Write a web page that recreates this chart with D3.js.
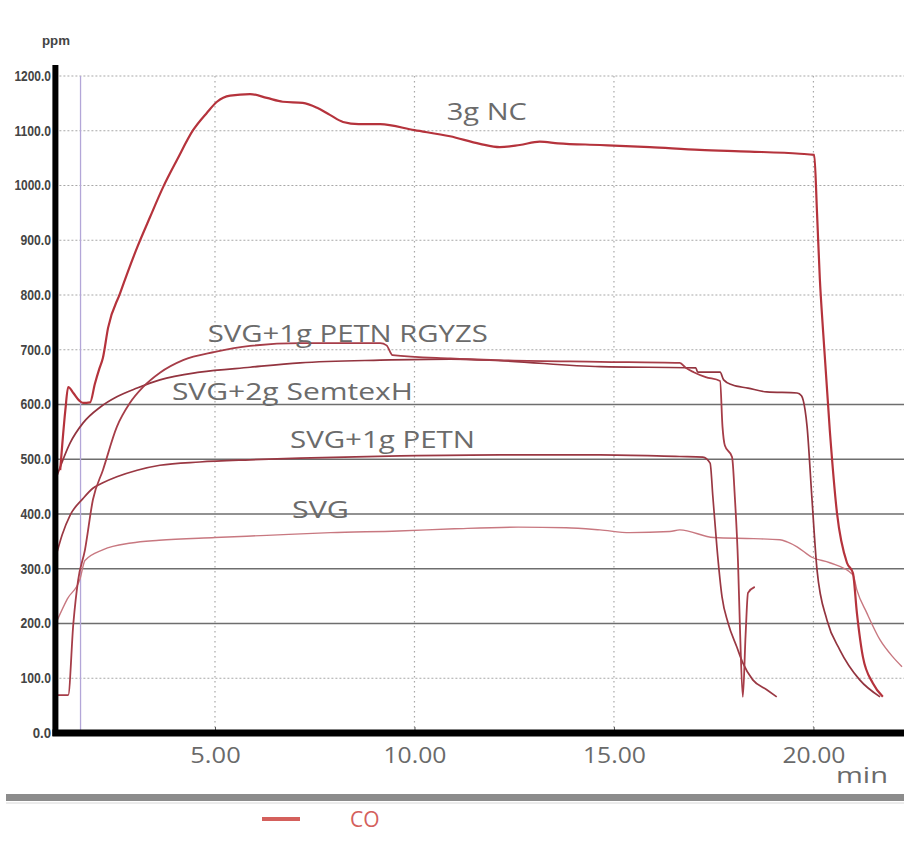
<!DOCTYPE html>
<html>
<head>
<meta charset="utf-8">
<script src="https://cdn.jsdelivr.net/npm/d3@7"></script>
<style>
  body { margin: 0; background: #fff; }
  svg { display: block; }
</style>
</head>
<body>
<div id="screen"></div>
<script>
// readings: [minutes, ppm]
const nc = [[1.12, 480], [1.17, 525], [1.25, 590], [1.32, 632], [1.45, 621], [1.60, 607], [1.69, 603], [1.87, 604],
    [1.99, 638], [2.10, 665], [2.19, 685], [2.32, 740], [2.62, 803], [3.05, 887], [3.37, 942], [3.70, 997],
    [4.05, 1047], [4.45, 1101], [4.80, 1133], [5.05, 1153], [5.38, 1164], [5.88, 1167], [6.30, 1160],
    [6.70, 1153], [7.20, 1151], [7.56, 1142], [7.88, 1129], [8.21, 1116], [8.60, 1112], [9.14, 1112],
    [10.0, 1101], [10.89, 1090], [11.64, 1076], [12.14, 1070], [12.64, 1074], [13.14, 1080], [13.60, 1077],
    [14.65, 1074], [15.90, 1070], [17.15, 1065], [18.40, 1062], [19.66, 1058], [20.02, 1056], [20.09, 950],
    [20.16, 830], [20.24, 736], [20.41, 553], [20.59, 402], [20.84, 311], [20.99, 292], [21.09, 219],
    [21.24, 139], [21.49, 91], [21.74, 66]];

const rgyzs = [[1.04, 69], [1.32, 69], [1.45, 200], [1.57, 279], [1.74, 334], [1.94, 426], [2.19, 480],
    [2.54, 559], [2.87, 603], [3.20, 632], [3.62, 658], [4.20, 681], [5.0, 696], [5.88, 707], [7.13, 712],
    [9.14, 712], [9.30, 708], [9.45, 690], [10.9, 684], [12.1, 681], [14.65, 678], [16.65, 676], [16.8, 667],
    [17.0, 659], [17.3, 650], [17.66, 643], [17.72, 560], [17.78, 525], [17.96, 504], [18.03, 431],
    [18.11, 311], [18.16, 188], [18.23, 66], [18.30, 180], [18.36, 256], [18.53, 267]];

const semtex = [[1.04, 470], [1.37, 530], [1.69, 566], [2.12, 595], [2.54, 614], [3.05, 630], [3.62, 645],
    [4.62, 659], [5.88, 668], [7.13, 676], [9.14, 681], [10.89, 683], [12.14, 680], [14.65, 669],
    [17.05, 667], [17.10, 659], [17.66, 659], [17.75, 645], [17.96, 636], [18.36, 630], [18.83, 623],
    [19.59, 621], [19.70, 616], [19.79, 590], [19.84, 560], [19.96, 431], [20.09, 298], [20.34, 206],
    [20.66, 152], [21.16, 97], [21.67, 66]];

const petn = [[1.04, 330], [1.17, 362], [1.37, 398], [1.69, 428], [1.94, 447], [2.19, 457], [2.54, 468],
    [3.05, 480], [3.62, 489], [4.62, 495], [5.88, 499], [7.13, 502], [9.64, 506], [12.14, 508], [14.65, 508],
    [16.65, 505], [17.23, 504], [17.41, 493], [17.48, 431], [17.58, 340], [17.71, 248], [17.86, 201],
    [18.08, 157], [18.23, 128], [18.48, 97], [18.83, 79], [19.08, 66]];

const svgOnly = [[1.04, 205], [1.30, 245], [1.62, 282], [1.74, 315], [2.2, 335], [2.9, 347], [3.6, 352],
    [5.0, 357], [6.3, 361], [7.9, 366], [9.6, 369], [11.0, 373], [12.6, 376], [13.8, 375], [14.65, 371],
    [15.4, 366], [16.4, 368], [16.65, 371], [17.5, 357], [18.5, 355], [19.16, 353], [19.34, 349],
    [19.59, 340], [19.96, 321], [20.41, 311], [20.99, 289], [21.09, 261], [21.34, 219], [21.67, 170],
    [21.99, 139], [22.22, 121]];

const seriesNames = ["3g NC", "SVG+1g PETN RGYZS", "SVG+2g SemtexH", "SVG+1g PETN", "SVG"];
const yTicks = [0, 100, 200, 300, 400, 500, 600, 700, 800, 900, 1000, 1100, 1200];
const darkLevels = [200, 300, 400, 500, 600];
const xTicks = [5, 10, 15, 20];
const markerTime = 1.63;
const legendName = "CO";

var width = 904, height = 854;

var svg = d3.select("#screen").append("svg").attr("width", width).attr("height", height);

var x = d3.scaleLinear().domain([1, 22.27]).range([55.4, 904]);
var y = d3.scaleLinear().domain([0, 1200]).range([733, 76]);

// grid
var grid = svg.append("g");
grid.selectAll("line.h")
    .data(yTicks.filter(v => v > 0 && darkLevels.indexOf(v) < 0))
    .enter().append("line")
    .attr("x1", x(1)).attr("x2", width)
    .attr("y1", d => y(d)).attr("y2", d => y(d))
    .attr("stroke", "#a8a8a8").attr("stroke-width", 1.2)
    .attr("stroke-dasharray", "2,2");

grid.selectAll("line.v")
    .data(xTicks)
    .enter().append("line")
    .attr("x1", d => x(d)).attr("x2", d => x(d))
    .attr("y1", y(1200)).attr("y2", y(0))
    .attr("stroke", "#a8a8a8").attr("stroke-width", 1.2)
    .attr("stroke-dasharray", "1.5,3.5");

grid.selectAll("line.d")
    .data(darkLevels)
    .enter().append("line")
    .attr("x1", x(1)).attr("x2", width)
    .attr("y1", d => y(d)).attr("y2", d => y(d))
    .attr("stroke", "#6e6e6e").attr("stroke-width", 1.6);

svg.append("line")
    .attr("x1", x(markerTime)).attr("x2", x(markerTime))
    .attr("y1", y(1200)).attr("y2", y(0))
    .attr("stroke", "#b3a6d8").attr("stroke-width", 1.3);

// curves
var line = d3.line().x(d => x(d[0])).y(d => y(d[1])).curve(d3.curveMonotoneX);

var curves = [
    {data: svgOnly, colour: "#c87880", w: 1.4},
    {data: petn, colour: "#9a3843", w: 1.7},
    {data: semtex, colour: "#93343f", w: 1.7},
    {data: rgyzs, colour: "#a63d48", w: 1.8},
    {data: nc, colour: "#b5333c", w: 2.2}
];

svg.append("g").selectAll("path")
    .data(curves)
    .enter().append("path")
    .attr("d", d => line(d.data))
    .attr("fill", "none")
    .attr("stroke", d => d.colour)
    .attr("stroke-width", d => d.w)
    .attr("stroke-linejoin", "round");

// axes
var yAxis = svg.append("g")
    .attr("transform", "translate(51,0)")
    .call(d3.axisLeft(y).tickValues(yTicks).tickFormat(d3.format(".1f")).tickSize(0).tickPadding(0));
yAxis.select(".domain").remove();
yAxis.selectAll("text")
    .attr("font-family", "'Liberation Sans', Arial, sans-serif")
    .attr("font-size", 14)
    .attr("font-weight", "bold")
    .attr("fill", "#444")
    .attr("textLength", function() { return this.textContent.length * 6.1; })
    .attr("lengthAdjust", "spacingAndGlyphs");

var xAxis = svg.append("g")
    .attr("transform", "translate(0," + y(0) + ")")
    .call(d3.axisBottom(x).tickValues(xTicks).tickFormat(d3.format(".2f")).tickSize(-6).tickPadding(15));
xAxis.select(".domain").remove();
xAxis.selectAll("line").attr("stroke", "#555").attr("stroke-width", 1);
xAxis.selectAll("text")
    .attr("font-family", "'Open Sans', sans-serif")
    .attr("font-size", 21)
    .attr("fill", "#6a6a6a")
    .attr("textLength", function() { return this.textContent.length * 12.6; })
    .attr("lengthAdjust", "spacingAndGlyphs");

svg.append("line")
    .attr("x1", x(1)).attr("x2", x(1))
    .attr("y1", 65).attr("y2", y(0) + 3)
    .attr("stroke", "#000").attr("stroke-width", 6);
svg.append("line")
    .attr("x1", x(1) - 3).attr("x2", width)
    .attr("y1", y(0)).attr("y2", y(0))
    .attr("stroke", "#000").attr("stroke-width", 7);

svg.append("text").text("ppm")
    .attr("x", 42).attr("y", 45)
    .attr("font-family", "'Liberation Sans', Arial, sans-serif")
    .attr("font-size", 12).attr("font-weight", "bold").attr("fill", "#444")
    .attr("textLength", 28).attr("lengthAdjust", "spacingAndGlyphs");

svg.append("text").text("min")
    .attr("x", 836).attr("y", 783)
    .attr("font-family", "'Open Sans', sans-serif")
    .attr("font-size", 21).attr("fill", "#6a6a6a")
    .attr("textLength", 52).attr("lengthAdjust", "spacingAndGlyphs");

// series names, anchored in data units
var nameSpots = [[10.81, 1120, 80], [4.82, 714, 280], [3.92, 608, 241], [6.88, 521, 185], [6.93, 393, 57]];
svg.append("g").selectAll("text")
    .data(seriesNames)
    .enter().append("text")
    .text(d => d)
    .attr("x", (d, i) => x(nameSpots[i][0]))
    .attr("y", (d, i) => y(nameSpots[i][1]))
    .attr("font-family", "'Open Sans', sans-serif")
    .attr("font-size", 23)
    .attr("fill", "#6b6b6b")
    .attr("textLength", (d, i) => nameSpots[i][2])
    .attr("lengthAdjust", "spacingAndGlyphs");

// separator and legend
svg.append("rect")
    .attr("x", 6).attr("y", 794).attr("width", width - 6).attr("height", 7)
    .attr("fill", "#8c8c8c");
svg.append("line")
    .attr("x1", 6).attr("x2", width).attr("y1", 803).attr("y2", 803)
    .attr("stroke", "#d8d8d8").attr("stroke-width", 1);

svg.append("line")
    .attr("x1", 262).attr("x2", 300).attr("y1", 819).attr("y2", 819)
    .attr("stroke", "#d4605c").attr("stroke-width", 4);
svg.append("text").text(legendName)
    .attr("x", 350).attr("y", 827)
    .attr("font-family", "'Open Sans', sans-serif")
    .attr("font-size", 21).attr("fill", "#d4605c");
</script>
</body>
</html>
